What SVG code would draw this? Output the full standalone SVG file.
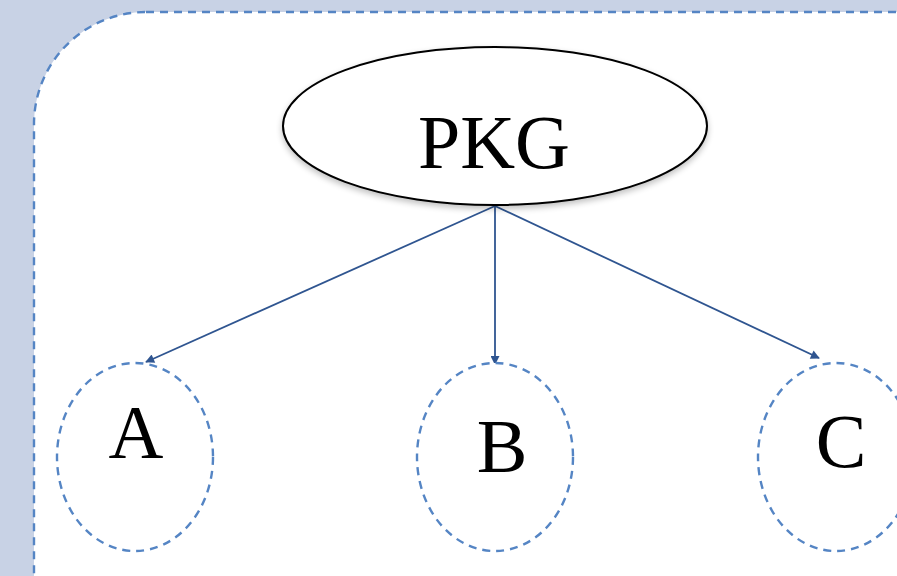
<svg xmlns="http://www.w3.org/2000/svg" width="897" height="576" viewBox="0 0 897 576">
<defs>
<style>
.lbl{font-family:"Liberation Serif","Times New Roman",serif;fill:#000;text-anchor:middle}
.dash{fill:#fff;stroke:#5585C4;stroke-width:2.4;stroke-dasharray:8 6}
.conn{stroke:#2F5590;stroke-width:1.8;fill:none;marker-end:url(#ah)}
</style>
<marker id="ah" viewBox="0 0 10 10" refX="9" refY="5" markerWidth="12" markerHeight="9" markerUnits="userSpaceOnUse" orient="auto">
<path d="M0,0 L10,5 L0,10 z" fill="#2F5590"/>
</marker>
<filter id="sh" x="-10%" y="-10%" width="120%" height="130%">
<feGaussianBlur in="SourceAlpha" stdDeviation="3"/>
<feOffset dx="0" dy="3"/>
<feComponentTransfer><feFuncA type="linear" slope="0.25"/></feComponentTransfer>
<feMerge><feMergeNode/><feMergeNode in="SourceGraphic"/></feMerge>
</filter>
</defs>
<rect width="897" height="576" fill="#C8D2E5"/>
<rect id="frame" class="dash" x="34" y="12" width="1100" height="800" rx="112" ry="112"/>
<g id="connectors">
<line class="conn" x1="495" y1="206" x2="146" y2="362"/>
<line class="conn" x1="495" y1="206" x2="495" y2="364"/>
<line class="conn" x1="495" y1="206" x2="819" y2="358"/>
</g>
<g id="PKG">
<ellipse cx="495" cy="126" rx="212" ry="79" fill="#fff" stroke="#000" stroke-width="2" filter="url(#sh)"/>
<text class="lbl" x="494" y="168" font-size="76">PKG</text>
</g>
<g id="A">
<ellipse class="dash" cx="135" cy="457" rx="78" ry="94"/>
<text class="lbl" x="136" y="458" font-size="76">A</text>
</g>
<g id="B">
<ellipse class="dash" cx="495" cy="457" rx="78" ry="94"/>
<text class="lbl" x="502" y="472" font-size="76">B</text>
</g>
<g id="C">
<ellipse class="dash" cx="836" cy="457" rx="78" ry="94"/>
<text class="lbl" x="841" y="467" font-size="76">C</text>
</g>
</svg>
